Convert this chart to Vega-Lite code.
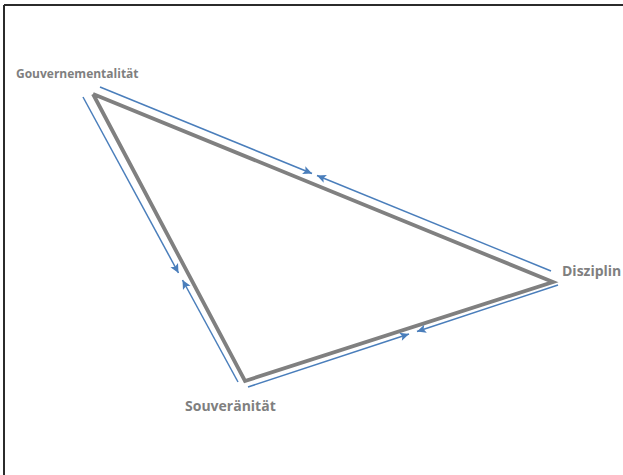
{
  "$schema": "https://vega.github.io/schema/vega-lite/v6.json",
  "width": 623,
  "height": 475,
  "padding": 0,
  "autosize": {"type": "none"},
  "config": {"view": {"stroke": null}},
  "datasets": {
    "frame": [
      {"x": 4, "y": 5, "x2": 623, "y2": 5},
      {"x": 4, "y": 5, "x2": 4, "y2": 475}
    ],
    "triangle": [
      {"node": "Gouvernementalität", "x": 93, "y": 94, "o": 1},
      {"node": "Disziplin", "x": 553, "y": 282, "o": 2},
      {"node": "Souveränität", "x": 245, "y": 381, "o": 3},
      {"node": "Gouvernementalität", "x": 93, "y": 94, "o": 4}
    ],
    "arrows": [
      {"x": 100, "y": 87, "x2": 312, "y2": 173.5, "angle": 22.2},
      {"x": 551, "y": 271, "x2": 317, "y2": 175.5, "angle": 202.2},
      {"x": 83, "y": 97, "x2": 178.5, "y2": 273, "angle": 61.5},
      {"x": 238, "y": 382, "x2": 182.5, "y2": 280, "angle": 241.5},
      {"x": 248, "y": 387, "x2": 409, "y2": 334, "angle": 341.8},
      {"x": 558, "y": 285, "x2": 417, "y2": 331.5, "angle": 161.8}
    ],
    "labels": [
      {"label": "Gouvernementalität", "x": 16, "y": 74},
      {"label": "Disziplin", "x": 562, "y": 272},
      {"label": "Souveränität", "x": 185, "y": 407}
    ]
  },
  "layer": [
    {
      "data": {"name": "frame"},
      "mark": {"type": "rule", "color": "#2b2b2b", "strokeWidth": 2},
      "encoding": {
        "x": {"field": "x", "type": "quantitative", "scale": {"domain": [0, 623], "nice": false, "zero": false}, "axis": null},
        "y": {"field": "y", "type": "quantitative", "scale": {"domain": [0, 475], "nice": false, "zero": false, "reverse": true}, "axis": null},
        "x2": {"field": "x2"},
        "y2": {"field": "y2"}
      }
    },
    {
      "data": {"name": "triangle"},
      "mark": {"type": "line", "color": "#808080", "strokeWidth": 3.8, "strokeJoin": "miter"},
      "encoding": {
        "x": {"field": "x", "type": "quantitative", "scale": {"domain": [0, 623], "nice": false, "zero": false}, "axis": null},
        "y": {"field": "y", "type": "quantitative", "scale": {"domain": [0, 475], "nice": false, "zero": false, "reverse": true}, "axis": null},
        "order": {"field": "o", "type": "quantitative"}
      }
    },
    {
      "data": {"name": "arrows"},
      "mark": {"type": "rule", "color": "#4a7ebb", "strokeWidth": 1.5},
      "encoding": {
        "x": {"field": "x", "type": "quantitative", "scale": {"domain": [0, 623], "nice": false, "zero": false}, "axis": null},
        "y": {"field": "y", "type": "quantitative", "scale": {"domain": [0, 475], "nice": false, "zero": false, "reverse": true}, "axis": null},
        "x2": {"field": "x2"},
        "y2": {"field": "y2"}
      }
    },
    {
      "data": {"name": "arrows"},
      "mark": {"type": "point", "shape": "M0,0L-1,-0.48L-0.78,0L-1,0.48Z", "filled": true, "color": "#4a7ebb", "opacity": 1, "size": 320, "strokeWidth": 0},
      "encoding": {
        "x": {"field": "x2", "type": "quantitative", "scale": {"domain": [0, 623], "nice": false, "zero": false}, "axis": null},
        "y": {"field": "y2", "type": "quantitative", "scale": {"domain": [0, 475], "nice": false, "zero": false, "reverse": true}, "axis": null},
        "angle": {"field": "angle", "type": "quantitative", "scale": null}
      }
    },
    {
      "data": {"name": "labels"},
      "mark": {"type": "text", "align": "left", "baseline": "middle", "font": "Open Sans", "fontWeight": "bold", "color": "#7f7f7f"},
      "encoding": {
        "x": {"field": "x", "type": "quantitative", "scale": {"domain": [0, 623], "nice": false, "zero": false}, "axis": null},
        "y": {"field": "y", "type": "quantitative", "scale": {"domain": [0, 475], "nice": false, "zero": false, "reverse": true}, "axis": null},
        "text": {"field": "label"},
        "size": {"condition": {"test": "datum.label === 'Gouvernementalität'", "value": 12}, "value": 14}
      }
    }
  ]
}
